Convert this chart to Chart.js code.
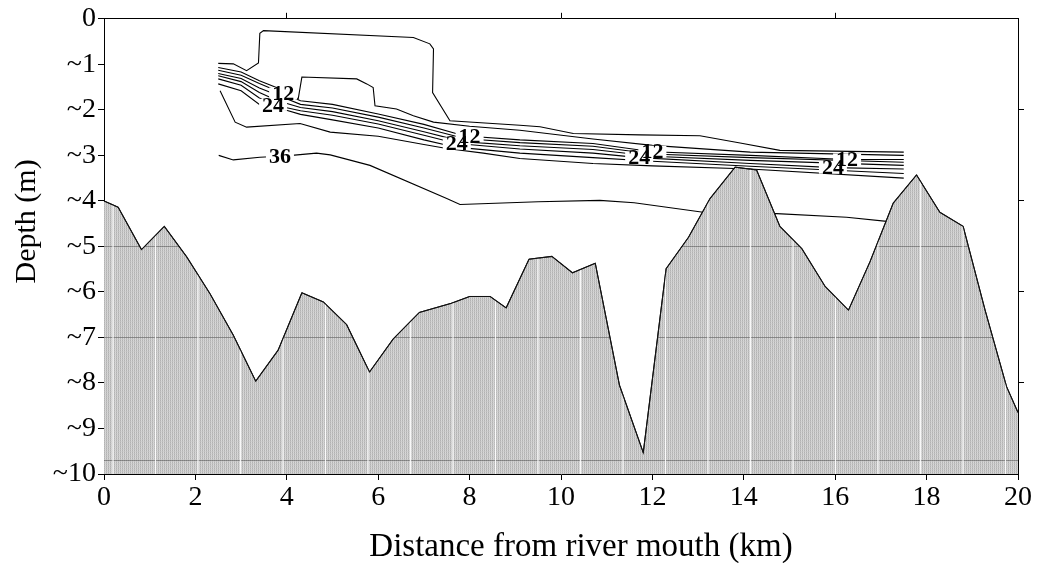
<!DOCTYPE html>
<html>
<head>
<meta charset="utf-8">
<title>Salinity section</title>
<script src="https://cdn.jsdelivr.net/npm/chart.js@4.4.0/dist/chart.umd.min.js"></script>
<style>
  html, body { margin: 0; padding: 0; background: #fff; }
</style>
</head>
<body>
<canvas id="section" width="1039" height="563"></canvas>
<script>
// --------------------- Bed profile ---------------------
const distanceKm = [0, 0.31, 0.82, 1.32, 1.81, 2.32, 2.83, 3.32, 3.81, 4.33, 4.8, 5.31, 5.81, 6.33, 6.9, 7.6, 8.0, 8.45, 8.8, 9.3, 9.8, 10.25, 10.75, 11.28, 11.8, 12.3, 12.79, 13.26, 13.81, 14.28, 14.79, 15.27, 15.78, 16.29, 16.76, 17.27, 17.78, 18.29, 18.8, 19.28, 19.75, 20];
const bedDepth = [-4.0, -4.14, -5.07, -4.56, -5.23, -6.04, -6.95, -7.96, -7.28, -6.02, -6.22, -6.72, -7.76, -7.03, -6.45, -6.25, -6.1, -6.1, -6.35, -5.28, -5.22, -5.58, -5.37, -8.05, -9.53, -5.49, -4.8, -3.95, -3.26, -3.32, -4.56, -5.05, -5.88, -6.4, -5.34, -4.05, -3.43, -4.25, -4.56, -6.4, -8.08, -8.65];

// --------------------- Salinity contours [km, depth] ---------------------
const iso4 = [[2.5, -0.98], [2.83, -0.99], [3.12, -1.14], [3.38, -0.97], [3.41, -0.32], [3.49, -0.26], [6.77, -0.41], [7.13, -0.55], [7.21, -0.66], [7.19, -1.62], [7.57, -2.24], [9.1, -2.34], [9.54, -2.37], [10.27, -2.52], [11.73, -2.55], [13.04, -2.57], [13.92, -2.73], [14.79, -2.89], [17.5, -2.93]];
const iso8 = [[2.5, -1.07], [3.0, -1.17], [3.4, -1.36], [3.8, -1.52], [4.1, -1.66], [4.25, -1.76], [4.33, -1.28], [5.53, -1.32], [5.75, -1.43], [5.89, -1.51], [5.93, -1.91], [6.4, -1.98], [6.77, -2.13], [7.21, -2.27], [8.0, -2.36], [9.1, -2.45], [10.7, -2.64], [12.0, -2.78], [14.14, -2.93], [17.5, -3.0]];
const iso12 = [[2.5, -1.13], [3.0, -1.24], [3.4, -1.42], [3.92, -1.64], [4.3, -1.8], [5.0, -1.88], [6.0, -2.09], [7.0, -2.32], [7.7, -2.52], [8.0, -2.58], [9.1, -2.66], [10.7, -2.74], [12.0, -2.92], [14.14, -3.0], [16.26, -3.09], [17.5, -3.09]];
const iso16 = [[2.5, -1.2], [3.0, -1.31], [3.4, -1.52], [3.9, -1.72], [4.3, -1.88], [5.0, -1.96], [6.0, -2.16], [7.0, -2.4], [7.7, -2.58], [8.0, -2.64], [9.1, -2.72], [10.7, -2.8], [12.0, -2.97], [14.14, -3.05], [17.5, -3.15]];
const iso20 = [[2.5, -1.25], [3.0, -1.38], [3.4, -1.62], [3.8, -1.8], [4.3, -1.95], [5.0, -2.04], [6.0, -2.24], [7.0, -2.48], [7.7, -2.66], [8.0, -2.71], [9.1, -2.79], [10.7, -2.87], [12.0, -3.02], [14.14, -3.11], [17.5, -3.22]];
const iso24 = [[2.5, -1.32], [3.0, -1.46], [3.4, -1.74], [3.7, -1.89], [4.3, -2.02], [5.0, -2.12], [6.0, -2.31], [7.0, -2.56], [7.72, -2.74], [9.1, -2.86], [10.7, -2.95], [11.71, -3.05], [14.14, -3.18], [15.95, -3.27], [17.5, -3.3]];
const iso28 = [[2.5, -1.43], [3.0, -1.58], [3.4, -1.88], [3.9, -1.98], [4.3, -2.1], [5.0, -2.22], [6.0, -2.4], [7.0, -2.66], [7.7, -2.82], [9.1, -2.95], [10.7, -3.05], [12.0, -3.13], [14.14, -3.24], [17.5, -3.4]];
const iso32 = [[2.54, -1.58], [2.87, -2.27], [3.12, -2.38], [4.29, -2.3], [4.95, -2.49], [6.0, -2.58], [7.0, -2.76], [7.5, -2.85], [8.3, -2.95], [9.1, -3.07], [10.7, -3.18], [12.0, -3.23], [14.14, -3.3], [17.5, -3.5]];
const iso36 = [[2.51, -3.0], [2.83, -3.1], [3.41, -3.04], [3.85, -3.02], [4.11, -3.0], [4.65, -2.95], [4.95, -2.99], [5.82, -3.22], [7.5, -3.95], [7.79, -4.08], [9.5, -4.02], [10.85, -3.99], [11.6, -4.04], [13.11, -4.25], [14.72, -4.28], [16.25, -4.36], [17.13, -4.45], [17.5, -4.47]];

const isoValues = [4, 8, 12, 16, 20, 24, 28, 32, 36];
const isoLines = [iso4, iso8, iso12, iso16, iso20, iso24, iso28, iso32, iso36];

// where along the section (km) each labelled contour carries its value
const labelKm = { 12: [3.92, 8.0, 12.0, 16.26], 24: [3.7, 7.72, 11.71, 15.95], 36: [3.85] };

// axis ticks
const xTicks = [0, 2, 4, 6, 8, 10, 12, 14, 16, 18, 20];
const yTicks = [0, -1, -2, -3, -4, -5, -6, -7, -8, -9, -10];
const topTicks = [4, 10, 16];
const rightTicks = [-2, -4, -6, -8];

const SERIF = "'Liberation Serif', 'DejaVu Serif', serif";
Chart.defaults.font.family = SERIF;
Chart.defaults.color = "#000";

// --------------------- Hatch fill for the bed ---------------------
function makeHatch() {
  const c = document.createElement("canvas");
  c.width = 2; c.height = 2;
  const g = c.getContext("2d");
  g.fillStyle = "#b2b2b2"; g.fillRect(0, 0, 1, 1);
  g.fillStyle = "#c0c0c0"; g.fillRect(0, 1, 1, 1);
  g.fillStyle = "#d9d9d9"; g.fillRect(1, 0, 1, 1);
  g.fillStyle = "#cfcfcf"; g.fillRect(1, 1, 1, 1);
  return g.createPattern(c, "repeat");
}

function depthAt(line, km) {
  for (let i = 1; i < line.length; i++) {
    const [x0, y0] = line[i - 1], [x1, y1] = line[i];
    if (x1 !== x0 && (km - x0) * (km - x1) <= 0) return y0 + (y1 - y0) * (km - x0) / (x1 - x0);
  }
  return null;
}

// streaks and faint rules seen inside the hatched bed
const bedTexture = {
  id: "bedTexture",
  afterDatasetDraw(chart, args) {
    if (args.index !== 0) return;
    const { ctx, chartArea: a, scales } = chart;
    const pts = args.meta.data;
    ctx.save();
    ctx.beginPath();
    ctx.moveTo(pts[0].x, a.bottom);
    pts.forEach(p => ctx.lineTo(p.x, p.y));
    ctx.lineTo(pts[pts.length - 1].x, a.bottom);
    ctx.closePath();
    ctx.clip();
    ctx.strokeStyle = "rgba(70,70,70,0.5)";
    ctx.lineWidth = 1;
    [-5, -7, -9.7].forEach(v => {
      const y = Math.round(scales.y.getPixelForValue(v)) + 0.5;
      ctx.beginPath(); ctx.moveTo(a.left, y); ctx.lineTo(a.right, y); ctx.stroke();
    });
    ctx.strokeStyle = "rgba(255,255,255,0.9)";
    ctx.lineWidth = 1.2;
    for (let x = a.left + 9; x < a.right; x += 42.5) {
      ctx.beginPath(); ctx.moveTo(x, a.top); ctx.lineTo(x, a.bottom); ctx.stroke();
    }
    ctx.restore();
    // outline back on top
    ctx.save();
    ctx.strokeStyle = "#111";
    ctx.lineWidth = 1.1;
    ctx.beginPath();
    pts.forEach((p, i) => i ? ctx.lineTo(p.x, p.y) : ctx.moveTo(p.x, p.y));
    ctx.stroke();
    ctx.restore();
  }
};

// contour value labels, sitting on their lines
const contourLabels = {
  id: "contourLabels",
  afterDatasetsDraw(chart) {
    const { ctx, scales } = chart;
    const items = [];
    Object.keys(labelKm).forEach(v => {
      const line = isoLines[isoValues.indexOf(Number(v))];
      labelKm[v].forEach(km => {
        const d = depthAt(line, km);
        if (d === null) return;
        items.push({ text: String(v), x: scales.x.getPixelForValue(km), y: scales.y.getPixelForValue(d) });
      });
    });
    ctx.save();
    ctx.font = "bold 22px " + SERIF;
    ctx.textAlign = "center";
    ctx.textBaseline = "middle";
    ctx.fillStyle = "#fff";
    items.forEach(it => {
      const w = ctx.measureText(it.text).width + 6;
      ctx.fillRect(it.x - w / 2, it.y - 6, w, 12);
    });
    ctx.fillStyle = "#000";
    items.forEach(it => ctx.fillText(it.text, it.x, it.y + 1));
    ctx.restore();
  }
};

// axis titles, set a little off the plot centre
const axisTitles = {
  id: "axisTitles",
  afterDraw(chart) {
    const { ctx, chartArea: a } = chart;
    ctx.save();
    ctx.fillStyle = "#000";
    ctx.textAlign = "center";
    ctx.textBaseline = "middle";
    ctx.font = "33px " + SERIF;
    ctx.fillText("Distance from river mouth (km)", (a.left + a.right) / 2 + 20, a.bottom + 73);
    ctx.translate(27, (a.top + a.bottom) / 2 - 25);
    ctx.rotate(-Math.PI / 2);
    ctx.font = "30px " + SERIF;
    ctx.fillText("Depth (m)", 0, 0);
    ctx.restore();
  }
};

const datasets = [{
  label: "bed",
  data: distanceKm.map((x, i) => ({ x, y: bedDepth[i] })),
  showLine: true,
  borderColor: "#111",
  borderWidth: 1,
  backgroundColor: makeHatch(),
  fill: "start",
  pointRadius: 0,
  order: 0
}];
isoLines.forEach((line, i) => {
  datasets.push({
    label: "S" + isoValues[i],
    data: line.map(([x, y]) => ({ x, y })),
    showLine: true,
    borderColor: "#000",
    borderWidth: 1.1,
    fill: false,
    pointRadius: 0,
    order: 1
  });
});

const tickFont = { size: 28, family: SERIF };

new Chart(document.getElementById("section"), {
  type: "scatter",
  data: { datasets },
  options: {
    responsive: false,
    animation: false,
    layout: { padding: 0 },
    plugins: { legend: { display: false }, tooltip: { enabled: false } },
    scales: {
      x: {
        type: "linear", position: "bottom", min: 0, max: 20,
        afterBuildTicks: s => { s.ticks = xTicks.map(value => ({ value })); },
        afterFit: s => { s.height = 89; },
        ticks: { font: tickFont, padding: 1, maxRotation: 0 },
        grid: { drawOnChartArea: false, tickLength: 6, color: "#000" },
        border: { color: "#000", width: 1 }
      },
      y: {
        type: "linear", position: "left", min: -10, max: 0,
        afterBuildTicks: s => { s.ticks = yTicks.map(value => ({ value })); },
        afterFit: s => { s.width = 104; },
        ticks: { font: tickFont, padding: 2, callback: v => (v === 0 ? "0" : "~" + Math.abs(v)) },
        grid: { drawOnChartArea: false, tickLength: 6, color: "#000" },
        border: { color: "#000", width: 1 }
      },
      x2: {
        type: "linear", position: "top", min: 0, max: 20,
        afterBuildTicks: s => { s.ticks = topTicks.map(value => ({ value })); },
        afterFit: s => { s.height = 18; },
        ticks: { display: false },
        grid: { drawOnChartArea: false, tickLength: 6, color: "#000" },
        border: { color: "#000", width: 1 }
      },
      y2: {
        type: "linear", position: "right", min: -10, max: 0,
        afterBuildTicks: s => { s.ticks = rightTicks.map(value => ({ value })); },
        afterFit: s => { s.width = 21; },
        ticks: { display: false },
        grid: { drawOnChartArea: false, tickLength: 6, color: "#000" },
        border: { color: "#000", width: 1 }
      }
    }
  },
  plugins: [bedTexture, contourLabels, axisTitles]
});
</script>
</body>
</html>
